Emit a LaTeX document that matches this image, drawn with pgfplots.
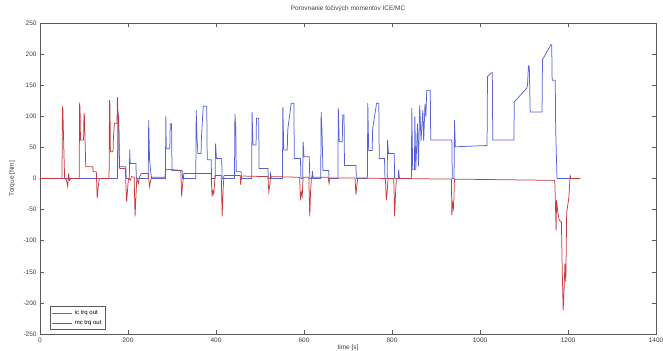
\documentclass[border=0pt]{standalone}
\usepackage{fontspec}
\setmainfont{Liberation Sans}
\usepackage{pgfplots}
\pgfplotsset{compat=1.18}
\definecolor{icblue}{RGB}{85,98,215}
\definecolor{mcred}{RGB}{200,60,60}
\definecolor{axgray}{RGB}{90,90,90}
\begin{document}
\begin{tikzpicture}
\useasboundingbox (-40bp,-17bp) rectangle (623bp,334bp);
\begin{axis}[
  scale only axis, width=616bp, height=311bp,
  xmin=0, xmax=1400, ymin=-250, ymax=250,
  xtick={0,200,...,1400}, ytick={-250,-200,...,250},
  tick align=inside, major tick length=4bp,
  axis line style={axgray, line width=0.6bp},
  every tick/.style={axgray, line width=0.5bp},
  tick label style={font=\fontsize{6.5}{7}\selectfont, text=black!75},
  /pgf/number format/assume math mode=true,
  /pgf/number format/1000 sep={},
  scaled ticks=false,
  title={Porovnanie točivých momentov ICE/MC},
  title style={font=\fontsize{6.5}{8}\selectfont, text=black!75, at={(axis description cs:0.5,1)}, anchor=south, yshift=2bp},
  xlabel={time [s]},
  xlabel style={font=\fontsize{6.5}{7}\selectfont, text=black!75, at={(axis description cs:0.5,-0.031)}, anchor=north, inner sep=0.5bp},
  ylabel={Torque [Nm]},
  ylabel style={font=\fontsize{6.5}{7}\selectfont, text=black!75, at={(axis description cs:-0.045,0.5)}, anchor=center},
  legend style={at={(axis description cs:0.016,0.013)}, anchor=south west,
    font=\fontsize{6}{7}\selectfont, draw=axgray, line width=0.5bp,
    inner xsep=2bp, inner ysep=1.5bp, row sep=1bp},
  legend cell align=left,
  legend image code/.code={\draw[mark repeat=2,mark phase=2,#1] (0bp,0bp) -- (20bp,0bp);},
  clip=true,
]
\addplot[color=icblue, line width=0.75bp] coordinates {
(0,0)(176,0)(177,106)(179,100)(180,19)(195,19)(196,0)(203,0)(204,47)(205,24)(218,24)(219,0)
(246,0)(247,94)(249,30)(252,8)(254,0)
(285,0)(286,100)(287,48)(295,48)(296,88)(299,88)(300,13)(323,13)(324,0)
(354,0)(355,110)(357,62)(359,40)(366,40)(367,67)(371,116)(379,116)(380,30)(389,30)(390,0)
(398,0)(399,56)(401,32)(413,32)(414,0)
(442,0)(443,104)(445,79)(446,11)(457,11)(458,0)
(481,0)(482,107)(484,54)(491,54)(492,97)(497,97)(498,16)(518,16)(519,0)(523,0)(524,8)(526,0)
(551,0)(552,115)(554,46)(562,46)(563,78)(571,121)(577,121)(578,32)(592,32)(593,0)
(597,0)(598,59)(600,35)(612,35)(613,0)(618,0)(619,12)(621,0)
(638,0)(639,107)(641,75)(643,13)(656,13)(657,0)
(677,0)(678,113)(680,59)(687,59)(688,102)(691,102)(692,21)(718,21)(719,0)
(744,0)(745,121)(747,45)(755,45)(756,80)(765,121)(770,121)(771,32)(783,32)(784,0)
(789,0)(790,62)(792,40)(805,40)(806,0)(814,0)(815,14)(817,0)
(844,0)(845,113)(847,14)(851,14)(852,100)(854,14)(858,88)(860,20)(863,118)(866,60)(870,110)(872,60)(875,120)(877,100)(879,142)(887,142)(888,62)(936,62)(937,0)(941,0)(942,94)(944,51)
(1016,53)(1017,164)(1026,170)(1028,170)(1029,62)(1077,62)(1078,123)(1106,145)(1108,150)(1110,181)(1112,180)(1114,107)(1141,107)(1142,191)(1161,215)(1163,215)(1164,158)(1171,158)(1172,80)(1175,0)(1205,0)
};
\addlegendentry{ic trq out}
\addplot[color=mcred, line width=0.75bp] coordinates {
(0,0)(50,0)(51,114)(52,112)(53,80)(56,0)(60,-2)(63,-13)(65,8)(67,-3)(70,0)
(89,0)(90,118)(91,115)(92,62)(99,62)(100,105)(101,100)(104,19)(120,19)(121,11)(128,11)(130,-32)(132,-15)(135,0)
(157,0)(158,126)(159,120)(160,43)(166,43)(167,67)(169,89)(175,89)(176,131)(177,110)(179,83)(181,16)(194,16)(196,-24)(197,-37)(199,-18)(201,0)(205,-3)(208,3)(214,2)(216,-61)(218,-30)(220,0)(224,-8)(226,2)
(230,8)(246,8)(249,-13)(251,-4)(254,2)(284,2)(286,15)(320,13)(322,-29)(324,-10)(327,8)(389,8)(391,-29)(393,-20)(395,-25)(398,5)(412,5)(414,-61)(416,-20)(418,5)(455,5)(456,-10)(458,4)(518,3)(520,-21)(522,-12)(524,3)(590,2)(592,-35)(594,-22)(596,-28)(598,2)(611,2)(613,-61)(615,-20)(617,2)(655,2)(657,-8)(659,1)(716,1)(718,-26)(720,-12)(722,1)(785,0)(787,-35)(789,-22)(791,0)(804,0)(806,-61)(808,-25)(810,0)(935,-1)(936,-59)(938,-40)(940,-48)(942,-1)
(1170,-3)(1171,-30)(1173,-83)(1174,-35)(1177,-55)(1180,-67)(1185,-70)(1187,-150)(1189,-212)(1191,-180)(1193,-137)(1195,-166)(1197,-55)(1202,-30)(1205,6)(1206,0)(1228,0)
};
\addlegendentry{mc trq out}
\end{axis}
\end{tikzpicture}
\end{document}
